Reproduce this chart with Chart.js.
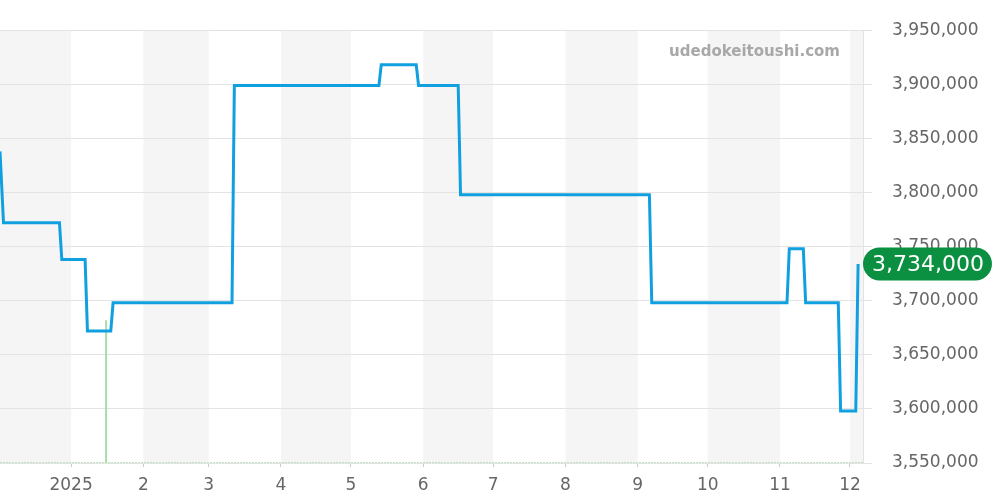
<!DOCTYPE html>
<html>
<head>
<meta charset="utf-8">
<script src="https://cdn.jsdelivr.net/npm/chart.js@4"></script>
<style>
  html, body { margin: 0; padding: 0; background: #fff; }
  #wrap { width: 1000px; height: 500px; }
</style>
</head>
<body>
<div id="wrap"><canvas id="grafico"></canvas></div>
<script>
// Dias contados a partir de 1 jan 2025
const dias = [-30.5, -29, -5, -4, 6, 7, 17, 18, 69, 70, 132, 133, 148, 149, 166, 167, 248, 249, 307, 308, 314, 315, 329, 330, 336.5, 337.5];
const precos = [3838000, 3772000, 3772000, 3738000, 3738000, 3672000, 3672000, 3698000, 3698000, 3899000, 3899000, 3918000, 3918000, 3899000, 3899000, 3798000, 3798000, 3698000, 3698000, 3748000, 3748000, 3698000, 3698000, 3598000, 3598000, 3734000];

// Inicio de cada mes e seus rotulos
const inicioMes = [0, 31, 59, 90, 120, 151, 181, 212, 243, 273, 304, 334];
const rotulosMes = ['2025', '2', '3', '4', '5', '6', '7', '8', '9', '10', '11', '12'];
// Meses sombreados (dez 2024, fev, abr, jun, ago, out, dez)
const faixasCinza = [[-31, 0], [31, 59], [90, 120], [151, 181], [212, 243], [273, 304], [334, 365]];

// Barra verde (volume)
const volumeDia = [15];
const volumeTopo = [3682000];

const precoAtual = 3734000;
const xMin = -30.5, xMax = 339.6;

const pontos = dias.map((d, i) => ({ x: d, y: precos[i] }));

const faixasPlugin = {
  id: 'faixas',
  beforeDraw(chart) {
    const { ctx, chartArea, scales } = chart;
    ctx.save();
    ctx.fillStyle = '#f5f5f5';
    faixasCinza.forEach(([a, b]) => {
      const x1 = Math.max(scales.x.getPixelForValue(a), chartArea.left);
      const x2 = Math.min(scales.x.getPixelForValue(b), chartArea.right);
      if (x2 > x1) ctx.fillRect(x1, chartArea.top, x2 - x1, chartArea.bottom - chartArea.top);
    });
    ctx.restore();
  },
  afterDraw(chart) {
    const { ctx, chartArea, scales } = chart;
    ctx.save();
    // marca d'agua
    ctx.font = 'bold 15px "DejaVu Sans"';
    ctx.fillStyle = '#a8a8a8';
    ctx.textAlign = 'right';
    ctx.textBaseline = 'middle';
    ctx.fillText('udedokeitoushi.com', chartArea.right - 23, 52);

    // etiqueta do preco atual
    const y = scales.y.getPixelForValue(precoAtual);
    const texto = precoAtual.toLocaleString('en-US');
    ctx.font = '22px "DejaVu Sans"';
    const w = ctx.measureText(texto).width + 17;
    const h = 33;
    const x = chartArea.right;
    ctx.fillStyle = '#0a9040';
    ctx.beginPath();
    ctx.roundRect(x, y - h / 2, w, h, h / 2);
    ctx.fill();
    ctx.fillStyle = '#fff';
    ctx.textAlign = 'left';
    ctx.fillText(texto, x + 9, y + 1);
    ctx.restore();
  }
};

new Chart(document.getElementById('grafico'), {
  type: 'line',
  data: {
    datasets: [
      {
        label: 'preco',
        data: pontos,
        borderColor: '#10a0e0',
        borderWidth: 3,
        pointRadius: 0,
        tension: 0,
        fill: false
      },
      {
        label: 'volume',
        data: volumeDia.flatMap((d, i) => [{ x: d, y: 3550000 }, { x: d, y: volumeTopo[i] }]),
        borderColor: '#a8dca8',
        borderWidth: 2,
        pointRadius: 0
      },
      {
        label: 'base',
        data: [{ x: xMin, y: 3550000 }, { x: xMax, y: 3550000 }],
        borderColor: '#a8dca8',
        borderWidth: 1.5,
        borderDash: [2, 1],
        pointRadius: 0
      }
    ]
  },
  options: {
    responsive: true,
    maintainAspectRatio: false,
    animation: false,
    layout: { padding: { top: 30, left: 0, right: 0, bottom: 5 } },
    plugins: {
      legend: { display: false },
      tooltip: { enabled: false }
    },
    scales: {
      x: {
        type: 'linear',
        min: xMin,
        max: xMax,
        afterBuildTicks(axis) {
          axis.ticks = inicioMes.map(v => ({ value: v }));
        },
        ticks: {
          autoSkip: false,
          maxRotation: 0,
          color: '#666',
          font: { family: 'DejaVu Sans', size: 17 },
          padding: 8,
          callback: (v) => rotulosMes[inicioMes.indexOf(v)]
        },
        grid: { drawOnChartArea: false, drawTicks: true, tickLength: 4, color: '#cccccc' },
        border: { display: false },
        afterFit(axis) { axis.height = 32; }
      },
      y: {
        position: 'right',
        min: 3550000,
        max: 3950000,
        ticks: {
          stepSize: 50000,
          color: '#666',
          font: { family: 'DejaVu Sans', size: 17 },
          padding: 20,
          callback: (v) => v.toLocaleString('en-US')
        },
        grid: { color: '#e3e3e3', tickLength: 9 },
        border: { display: true, color: '#e3e3e3' },
        afterFit(axis) { axis.width = 137; }
      }
    }
  },
  plugins: [faixasPlugin]
});
</script>
</body>
</html>
